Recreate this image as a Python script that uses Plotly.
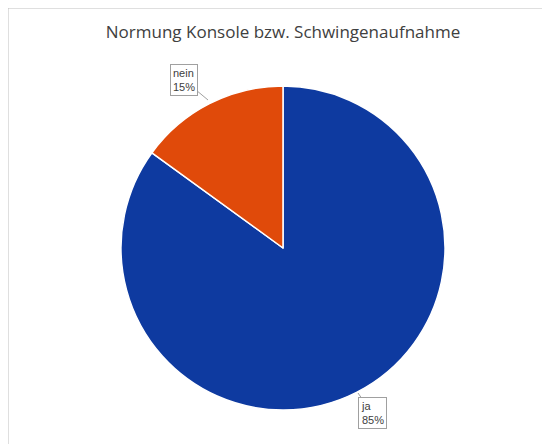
import plotly.graph_objects as go

labels = ["ja", "nein"]
values = [85, 15]
colors = ["#0e3aa0", "#e04a0a"]
title = "Normung Konsole bzw. Schwingenaufnahme"

W, H = 550, 444
fig = go.Figure(go.Pie(
    labels=labels, values=values, sort=False, direction="clockwise", rotation=0,
    marker=dict(colors=colors, line=dict(color="white", width=1.5)),
    textinfo="none", hoverinfo="label+percent", showlegend=False,
    domain=dict(x=[113/W, 437/W], y=[1-402/H, 1-78/H]),
))

def ann(text, px, py, tx, ty):
    return dict(text=text, x=px/W, y=1-py/H, xref="paper", yref="paper",
                ax=tx-px, ay=ty-py, axref="pixel", ayref="pixel",
                showarrow=True, arrowhead=0, arrowwidth=1, arrowcolor="#a0a0a0",
                bordercolor="#a0a0a0", borderwidth=1, bgcolor="white", borderpad=2,
                align="left", font=dict(family="Liberation Sans, Arial", size=11, color="#404040"))

fig.update_layout(
    width=W, height=H, margin=dict(l=0, r=0, t=0, b=0),
    paper_bgcolor="white",
    title=dict(text=title, x=0.5, y=1-24/H, xanchor="center", yanchor="middle",
               font=dict(family="Open Sans, Liberation Sans", size=17, color="#404040")),
    annotations=[
        ann("nein<br>%d%%" % values[1], 200, 92, 176, 72),
        ann("ja<br>%d%%" % values[0], 350, 385, 364, 405),
    ],
    shapes=[dict(type="rect", xref="paper", yref="paper", x0=0, y0=0, x1=1, y1=1,
                 line=dict(color="#bfbfbf", width=1))],
)
fig.write_html("out.html")
